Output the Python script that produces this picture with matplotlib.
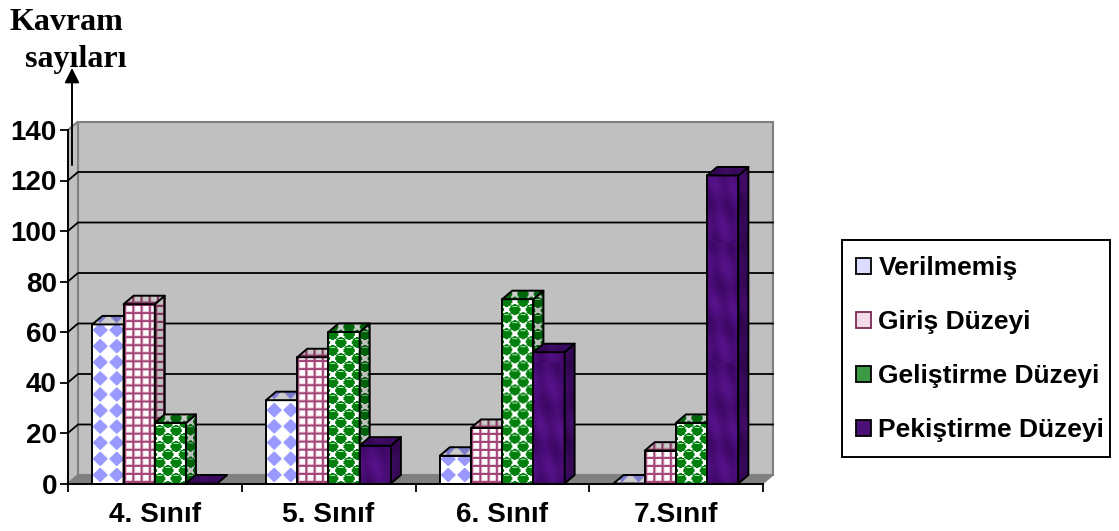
import numpy as np
import matplotlib
matplotlib.use("Agg")
import matplotlib.pyplot as plt
from matplotlib.legend_handler import HandlerTuple
from matplotlib.patches import Patch, Polygon, Rectangle

W, H = 1119, 531

categories = ["4. Sınıf", "5. Sınıf", "6. Sınıf", "7.Sınıf"]
series_names = ["Verilmemiş", "Giriş Düzeyi", "Geliştirme Düzeyi", "Pekiştirme Düzeyi"]
verilmemis = [63, 33, 11, 0]
giris = [71, 50, 22, 13]
gelistirme = [24, 60, 73, 24]
pekistirme = [0, 15, 52, 122]
y_ticks = [0, 20, 40, 60, 80, 100, 120, 140]

plt.rcParams["font.family"] = ["Liberation Sans", "DejaVu Sans"]
plt.rcParams["font.weight"] = "bold"
plt.rcParams["hatch.linewidth"] = 1.6

# front plane of the 3d box, in pixels
X0, X1, Y0, Y1 = 68, 763, 483.5, 130
fig = plt.figure(figsize=(W / 100, H / 100), dpi=100, facecolor="white")
ax = fig.add_axes([X0 / W, 1 - Y0 / H, (X1 - X0) / W, (Y0 - Y1) / H])
PX_X = (X1 - X0) / 4
PX_Y = (Y0 - Y1) / 140
DX = 10 / PX_X
DY = 8.5 / PX_Y


def grid_tile():
    t = np.ones((8, 8, 3))
    mauve = np.array([0.65, 0.27, 0.47])
    soft = np.array([0.93, 0.82, 0.88])
    t[:, 2] = soft
    t[2, :] = soft
    t[:, :2] = mauve
    t[:2, :] = mauve
    return t


def diamond_tile():
    t = np.ones((16, 16, 3))
    yy, xx = np.mgrid[0:16, 0:16]
    m = np.abs(xx - 7.5) + np.abs(yy - 7.5) < 7.5
    t[m] = [0.6, 0.6, 1.0]
    return t


def ball_tile():
    t = np.ones((16, 16, 3))
    yy, xx = np.mgrid[0:16, 0:16]
    # balls repeat across the tile edge, so draw the wrapped copies as well
    for cx, cy in [(4, 4), (12, 12), (-4, 12), (20, 4), (12, -4), (4, 20)]:
        t[(xx - cx) ** 2 + (yy - cy) ** 2 <= 26] = [0.0, 0.5, 0.05]
    for cx, cy in [(4, 4), (12, 12)]:
        # origin is lower, so the highlight sits above the ball centre at +y
        t[(np.abs(xx - cx) <= 2) & (yy == cy + 3)] = [0.65, 0.88, 0.65]
    return t


def purple_tile():
    yy, xx = np.mgrid[0:120, 0:32]
    mot = np.sin(yy / 9.0 + xx / 5.0) * np.sin(yy / 23.0 - xx / 7.0)
    t = np.zeros((120, 32, 3))
    t[..., 0] = 0.29 + 0.05 * mot
    t[..., 1] = 0.05 + 0.02 * mot
    t[..., 2] = 0.47 + 0.07 * mot
    return t


tiles = [diamond_tile(), grid_tile(), ball_tile(), purple_tile()]


def textured(pts, tile, shade, z):
    pts = np.array(pts)
    x0, x1 = pts[:, 0].min(), pts[:, 0].max()
    y0, y1 = pts[:, 1].min(), pts[:, 1].max()
    nx = max(int(round((x1 - x0) * PX_X)), 1)
    ny = max(int(round((y1 - y0) * PX_Y)), 1)
    th, tw = tile.shape[:2]
    img = np.tile(tile, (ny // th + 1, nx // tw + 1, 1))[:ny, :nx] * shade
    im = ax.imshow(img, extent=(x0, x1, y0, y1), origin="lower", aspect="auto",
                   interpolation="bilinear", zorder=z)
    clip = Polygon(pts, closed=True, transform=ax.transData)
    im.set_clip_path(clip)
    im.set_clip_box(fig.bbox)
    ax.add_patch(Polygon(pts, closed=True, fill=False, edgecolor="black", lw=1.4,
                         zorder=z + 0.5, clip_on=False, joinstyle="round"))


def bar3d(left, width, value, tile, z):
    right = left + width
    if value > 0:
        textured([(left, 0), (right, 0), (right, value), (left, value)], tile, 1.0, z)
        textured([(right, 0), (right + DX, DY), (right + DX, value + DY), (right, value)],
                 tile, 0.75, z + 1)
    textured([(left, value), (right, value), (right + DX, value + DY), (left + DX, value + DY)],
             tile, 0.8, z + 2)


# walls and floor
wall = "#c0c0c0"
edge = "#808080"
ax.add_patch(Polygon([(DX, DY), (4 + DX, DY), (4 + DX, 140 + DY), (DX, 140 + DY)],
                     facecolor=wall, edgecolor=edge, lw=1.5, clip_on=False, zorder=1))
ax.add_patch(Polygon([(0, 0), (DX, DY), (DX, 140 + DY), (0, 140)],
                     facecolor=wall, edgecolor=edge, lw=1.5, clip_on=False, zorder=1))
ax.add_patch(Polygon([(0, 0), (4, 0), (4 + DX, DY), (DX, DY)],
                     facecolor=edge, edgecolor=edge, lw=1, clip_on=False, zorder=1))
for v in y_ticks[1:-1]:
    ax.plot([0, DX, 4 + DX], [v, v + DY, v + DY], color="black", lw=1.3,
            clip_on=False, zorder=1.5)

values = [verilmemis, giris, gelistirme, pekistirme]
bar_w = 31.2 / PX_X
z = 3
for i in range(len(categories)):
    for s in range(len(series_names)):
        bar3d(i + 0.14 + s * bar_w, bar_w, values[s][i], tiles[s], z)
        z += 4

ax.set_xlim(0, 4)
ax.set_ylim(0, 140)
ax.set_yticks(y_ticks)
ax.set_xticks(range(5))
ax.set_xticklabels([])
ax.set_xticks(np.arange(4) + 0.5, categories, minor=True)
ax.tick_params(axis="y", length=6, width=1.3, labelsize=20, pad=2)
ax.tick_params(axis="x", which="major", length=6, width=1.3)
ax.tick_params(axis="x", which="minor", length=0, labelsize=20.2, pad=13)
for side in ["top", "right"]:
    ax.spines[side].set_visible(False)
for side in ["left", "bottom"]:
    ax.spines[side].set_linewidth(1.4)
ax.patch.set_visible(False)

# axis caption and arrow
serif = ["Liberation Serif", "DejaVu Serif"]
fig.text(10 / W, 1 - 22 / H, "Kavram", family=serif, fontsize=23, weight="bold", va="center")
fig.text(25 / W, 1 - 60 / H, "sayıları", family=serif, fontsize=23, weight="bold", va="center")
ax.annotate("", xy=(72 / W, 1 - 68 / H), xytext=(72 / W, 1 - 165 / H),
            xycoords="figure fraction", textcoords="figure fraction",
            arrowprops=dict(arrowstyle="-|>", color="black", lw=1.4, mutation_scale=22,
                            shrinkA=0, shrinkB=0), annotation_clip=False)

# legend frame is separate: the original has uneven padding
fig.add_artist(Rectangle((842 / W, 1 - 456.5 / H), 268 / W, 216.5 / H, transform=fig.transFigure,
                         facecolor="white", edgecolor="black", lw=1.4))
outline = Patch(fill=False, edgecolor="black", lw=1.3)
handles = [
    (Patch(facecolor="#dcdcff", edgecolor="none"), outline),
    (Patch(facecolor="#f3dce8", edgecolor="none"), Patch(fill=False, edgecolor="#7a2a55", lw=1.3)),
    (Patch(facecolor="#3c9a45", edgecolor="none"), outline),
    (Patch(facecolor="#4b0f78", edgecolor="none"), outline),
]
leg = fig.legend(handles, series_names, loc="upper left",
                 bbox_to_anchor=(856 / W, 1 - 256 / H), borderaxespad=0, borderpad=0,
                 fontsize=19, frameon=False, handlelength=0.55, handleheight=0.55,
                 handletextpad=0.3, labelspacing=1.14,
                 handler_map={tuple: HandlerTuple(ndivide=1, pad=0)})

fig.savefig("out.png", dpi=100)
